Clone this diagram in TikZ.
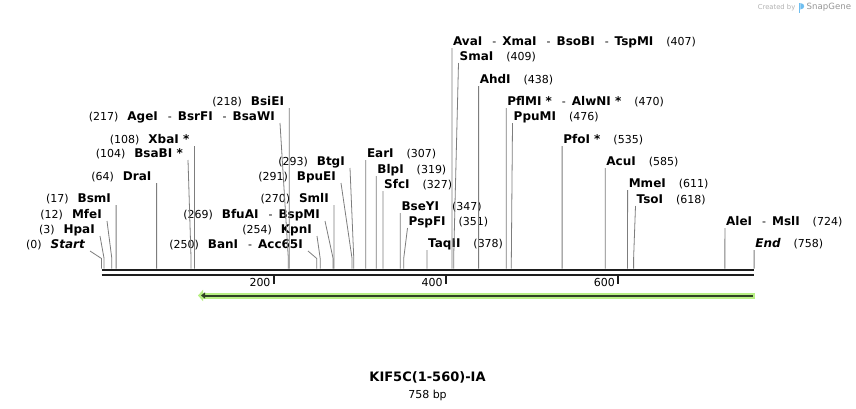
\documentclass[tikz,border=0pt]{standalone}
\usepackage{fontspec}
\setmainfont{DejaVu Sans}[BoldFont={DejaVu Sans Bold},ItalicFont={DejaVu Sans Oblique},BoldItalicFont={DejaVu Sans Bold Oblique}]
\usetikzlibrary{arrows.meta,calc,positioning}
\definecolor{conngray}{RGB}{125,125,125}
\definecolor{bbblack}{RGB}{30,30,30}
\definecolor{featlite}{RGB}{184,240,132}
\definecolor{featcore}{RGB}{48,66,36}
\definecolor{wmgray}{RGB}{178,178,178}
\definecolor{wmdark}{RGB}{150,150,150}
\definecolor{wmblue}{RGB}{110,190,240}
\newcommand{\enzname}[1]{{\fontsize{12}{14}\selectfont\bfseries #1}}
\newcommand{\enzsep}{{\mdseries\fontsize{11}{13}\selectfont\hspace{10pt}-\hspace{6pt}}}
\newcommand{\enzL}[2]{(#1)\hspace{9pt}\enzname{#2}}
\newcommand{\enzR}[2]{\enzname{#1}\hspace{13pt}(#2)}
\tikzset{
  lbl/.style={inner ysep=1pt, text height=8pt, text depth=1pt, font=\fontsize{11}{13}\selectfont},
  lbll/.style={lbl, anchor=south east, inner xsep=5pt},
  lblr/.style={lbl, anchor=south west, inner xsep=1pt},
  conn/.style={draw=conngray, line width=0.8pt},
  bbline/.style={draw=bbblack, line width=2.7pt},
  tickmark/.style={draw=bbblack, line width=1.8pt},
  ticklbl/.style={inner sep=0pt, font=\fontsize{11}{13}\selectfont},
  feathalo/.style={draw=featlite, line width=6pt, -{Triangle[length=5pt,width=11pt]}},
  featline/.style={draw=featcore, line width=2pt, -{Triangle[length=4pt,width=6pt]}},
  every node/.style={text=black}
}

\begin{document}
\begin{tikzpicture}[x=1pt,y=-1pt]
\useasboundingbox[fill=white] (0,0) rectangle (856,408);
% sites on the sequence
\foreach \b in {0,3,12,17,64,104,108,217,218,250,254,269,270,291,293,307,319,327,347,351,378,407,409,438,470,476,535,585,611,618,724,758}
  \coordinate (s\b) at ({101.5+0.861*\b},268.5);

% sequence line and ruler
\draw[bbline] (101.5,269.9) -- (754.4,269.9);
\draw[bbline, line width=2.4pt] (101.5,274.7) -- (754.4,274.7);
\foreach \t in {200,400,600}{
  \draw[tickmark] ({101.5+0.861*\t},276) -- ++(0,8);
  \node[ticklbl, anchor=east] (tick\t) at ({101.5+0.861*\t-3},282) {\t};
}

% feature arrow
\draw[feathalo] (755,295.5) -- (198,295.5);
\draw[featline] (752.5,295.5) -- (201,295.5);

% labels left of their sites
\node[lbll] (start) at (90,251) {\enzL{0}{\itshape Start}};
\node[lbll] (hpaI) at (100,236) {\enzL{3}{HpaI}};
\node[lbll] (mfeI) at (107,221) {\enzL{12}{MfeI}};
\node[lbll] (bsmI) at (116.1,205) {\enzL{17}{BsmI}};
\node[lbll] (draI) at (156.6,183) {\enzL{64}{DraI}};
\node[lbll] (bsaBI) at (188,160) {\enzL{104}{BsaBI *}};
\node[lbll] (xbaI) at (194.5,146) {\enzL{108}{XbaI *}};
\node[lbll] (ageI) at (280,123) {\enzL{217}{AgeI\enzsep BsrFI\enzsep BsaWI}};
\node[lbll] (bsiEI) at (289.2,108) {\enzL{218}{BsiEI}};
\node[lbll] (banI) at (308,251) {\enzL{250}{BanI\enzsep Acc65I}};
\node[lbll] (kpnI) at (317,236) {\enzL{254}{KpnI}};
\node[lbll] (bfuAI) at (325,221) {\enzL{269}{BfuAI\enzsep BspMI}};
\node[lbll] (smlI) at (334,205) {\enzL{270}{SmlI}};
\node[lbll] (bpuEI) at (341,183) {\enzL{291}{BpuEI}};
\node[lbll] (btgI) at (350,168) {\enzL{293}{BtgI}};

% labels right of their sites
\node[lblr] (earI) at (365.8,160) {\enzR{EarI}{307}};
\node[lblr] (blpI) at (376.2,176) {\enzR{BlpI}{319}};
\node[lblr] (sfcI) at (383,191) {\enzR{SfcI}{327}};
\node[lblr] (bseYI) at (400.3,213) {\enzR{BseYI}{347}};
\node[lblr] (pspFI) at (407.5,228) {\enzR{PspFI}{351}};
\node[lblr] (taqII) at (427,250) {\enzR{TaqII}{378}};
\node[lblr] (avaI) at (451.9,48) {\enzR{AvaI\enzsep XmaI\enzsep BsoBI\enzsep TspMI}{407}};
\node[lblr] (smaI) at (458.5,63) {\enzR{SmaI}{409}};
\node[lblr] (ahdI) at (478.6,86) {\enzR{AhdI}{438}};
\node[lblr] (pflMI) at (506.2,108) {\enzR{PflMI *\enzsep AlwNI *}{470}};
\node[lblr] (ppuMI) at (512.5,123) {\enzR{PpuMI}{476}};
\node[lblr] (pfoI) at (562.1,146) {\enzR{PfoI *}{535}};
\node[lblr] (acuI) at (605.2,168) {\enzR{AcuI}{585}};
\node[lblr] (mmeI) at (627.6,190) {\enzR{MmeI}{611}};
\node[lblr] (tsoI) at (635.5,206) {\enzR{TsoI}{618}};
\node[lblr] (aleI) at (724.9,228) {\enzR{AleI\enzsep MslI}{724}};
\node[lblr] (endl) at (754.1,250) {\enzR{\itshape End}{758}};

% connectors
\draw[conn] (start.south east) -- ($(s0)+(0,-10)$) -- (s0);
\draw[conn] (hpaI.south east) -- ($(s3)+(0,-10)$) -- (s3);
\draw[conn] (mfeI.south east) -- ($(s12)+(0,-10)$) -- (s12);
\draw[conn] (bsmI.south east) -- (s17);
\draw[conn] (draI.south east) -- (s64);
\draw[conn] (bsaBI.south east) -- ($(s104)+(0,-10)$) -- (s104);
\draw[conn] (xbaI.south east) -- (s108);
\draw[conn] (ageI.south east) -- ($(s217)+(0,-10)$) -- (s217);
\draw[conn] (bsiEI.south east) -- (s218);
\draw[conn] (banI.south east) -- ($(s250)+(0,-10)$) -- (s250);
\draw[conn] (kpnI.south east) -- ($(s254)+(0,-10)$) -- (s254);
\draw[conn] (bfuAI.south east) -- ($(s269)+(0,-10)$) -- (s269);
\draw[conn] (smlI.south east) -- (s270);
\draw[conn] (bpuEI.south east) -- ($(s291)+(0,-10)$) -- (s291);
\draw[conn] (btgI.south east) -- ($(s293)+(0,-10)$) -- (s293);
\draw[conn] (earI.south west) -- (s307);
\draw[conn] (blpI.south west) -- (s319);
\draw[conn] (sfcI.south west) -- (s327);
\draw[conn] (bseYI.south west) -- (s347);
\draw[conn] (pspFI.south west) -- ($(s351)+(0,-10)$) -- (s351);
\draw[conn] (taqII.south west) -- (s378);
\draw[conn] (avaI.south west) -- (s407);
\draw[conn] (smaI.south west) -- ($(s409)+(0,-10)$) -- (s409);
\draw[conn] (ahdI.south west) -- (s438);
\draw[conn] (pflMI.south west) -- (s470);
\draw[conn] (ppuMI.south west) -- ($(s476)+(0,-10)$) -- (s476);
\draw[conn] (pfoI.south west) -- (s535);
\draw[conn] (acuI.south west) -- (s585);
\draw[conn] (mmeI.south west) -- (s611);
\draw[conn] (tsoI.south west) -- ($(s618)+(0,-10)$) -- (s618);
\draw[conn] (aleI.south west) -- (s724);
\draw[conn] (endl.south west) -- (s758);

% title
\node[font=\fontsize{13}{15}\selectfont\bfseries] (title) at (427.5,377) {KIF5C(1-560)-IA};
\node[font=\fontsize{11}{13}\selectfont, below=0.5pt of title] (size) {758 bp};

% watermark
\node[anchor=east, inner sep=0pt, text=wmgray, font=\fontsize{6.8}{8}\selectfont] (madeby) at (795.5,7.5) {Created by};
\fill[wmblue] (798.5,3) rectangle (800.3,12.5);
\fill[wmblue] (800.3,3) .. controls (805.5,3.5) and (805.5,9) .. (800.3,9.5) -- cycle;
\node[anchor=west, inner sep=0pt, text=wmdark, font=\fontsize{8.6}{10}\selectfont] (snapgene) at (806.5,7.5) {SnapGene};
\end{tikzpicture}
\end{document}
